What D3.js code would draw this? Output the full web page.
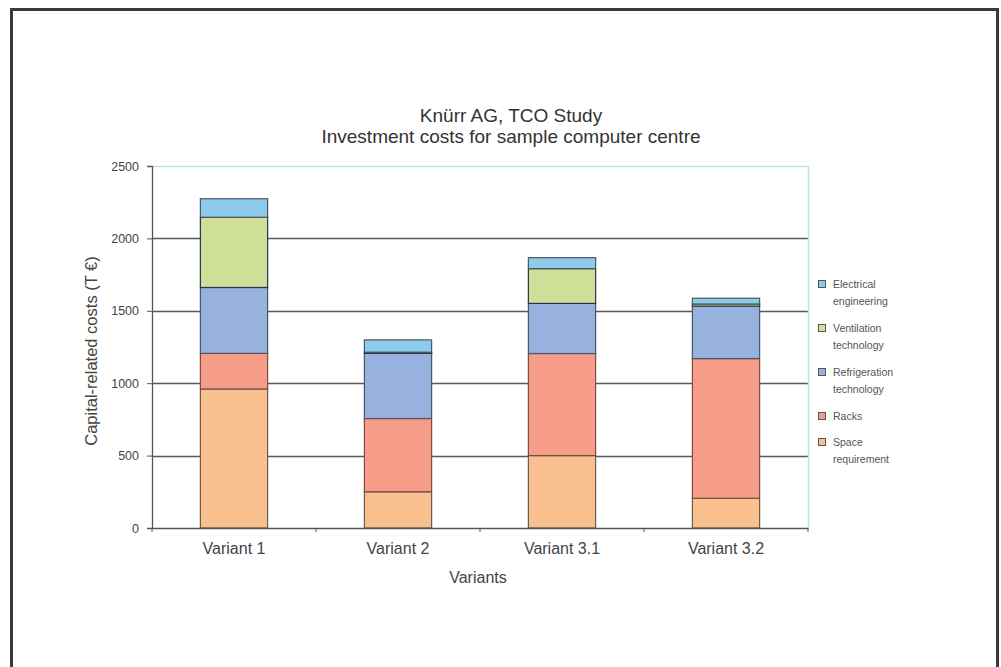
<!DOCTYPE html>
<html>
<head>
<meta charset="utf-8">
<script src="https://cdn.jsdelivr.net/npm/d3@7"></script>
<style>
  body { margin: 0; background: #fff; }
  svg { display: block; font-family: "Liberation Sans", Arial, sans-serif; }
</style>
</head>
<body>
<div id="chart"></div>
<script>
// chart data
const variants = ["Variant 1", "Variant 2", "Variant 3.1", "Variant 3.2"];
const seriesNames = ["Space requirement", "Racks", "Refrigeration technology", "Ventilation technology", "Electrical engineering"];
const spaceRequirement = [960, 250, 500, 205];
const racks = [246, 506, 705, 965];
const refrigeration = [455, 450, 346, 362];
const ventilation = [485, 8, 240, 15];
const electrical = [128, 85, 76, 40];
const yTicks = [0, 500, 1000, 1500, 2000, 2500];
const legendLines = [
  ["Electrical", "engineering"],
  ["Ventilation", "technology"],
  ["Refrigeration", "technology"],
  ["Racks"],
  ["Space", "requirement"]
];

const colors = ["#f9c18f", "#f59d89", "#97b2de", "#cfdf98", "#8ccbea"];
const strokes = ["#6b5a4a", "#7a4a44", "#4d5560", "#26344a", "#4d5560"];

const width = 1001, height = 667;
const margin = {top: 166, right: 193, bottom: 139, left: 152};

const svg = d3.select("#chart").append("svg")
  .attr("width", width)
  .attr("height", height);

// outer frame
svg.append("path")
  .attr("d", `M11.5,${height + 5} V9.5 H997.5 V${height + 5}`)
  .attr("fill", "none")
  .attr("stroke", "#3a3a3a")
  .attr("stroke-width", 3);

// build rows for stacking
const table = variants.map((v, i) => ({
  variant: v,
  "Space requirement": spaceRequirement[i],
  "Racks": racks[i],
  "Refrigeration technology": refrigeration[i],
  "Ventilation technology": ventilation[i],
  "Electrical engineering": electrical[i]
}));
const stacked = d3.stack().keys(seriesNames)(table);

const x = d3.scaleBand()
  .domain(variants)
  .range([margin.left, width - margin.right])
  .paddingInner(0.59)
  .paddingOuter(0.295);

const y = d3.scaleLinear()
  .domain([0, 2500])
  .range([height - margin.bottom, margin.top]);

// grid lines
svg.append("g")
  .selectAll("line")
  .data(yTicks.filter(d => d > 0 && d < 2500))
  .join("line")
  .attr("x1", margin.left)
  .attr("x2", width - margin.right)
  .attr("y1", d => Math.round(y(d)) + 0.5)
  .attr("y2", d => Math.round(y(d)) + 0.5)
  .attr("stroke", "#5a5a5a")
  .attr("stroke-width", 1.3);

// plot area border top/right (light cyan)
svg.append("path")
  .attr("d", `M${margin.left},${Math.round(y(2500)) + 0.5} H${width - margin.right + 0.5} V${Math.round(y(0))}`)
  .attr("fill", "none")
  .attr("stroke", "#bfe3ea")
  .attr("stroke-width", 1.5);

// bars
svg.append("g")
  .selectAll("g")
  .data(stacked)
  .join("g")
  .attr("fill", (d, i) => colors[i])
  .attr("stroke", (d, i) => strokes[i])
  .selectAll("rect")
  .data(d => d)
  .join("rect")
  .attr("x", d => x(d.data.variant))
  .attr("y", d => y(d[1]))
  .attr("width", x.bandwidth())
  .attr("height", d => Math.max(0, y(d[0]) - y(d[1])))
  .attr("stroke-width", 1.2);

// y axis
svg.append("g")
  .attr("transform", `translate(${margin.left},0)`)
  .call(d3.axisLeft(y).tickValues(yTicks).tickFormat(d3.format("d")).tickSize(5).tickPadding(8))
  .call(g => g.select(".domain").attr("stroke", "#555").attr("stroke-width", 1.3))
  .call(g => g.selectAll(".tick line").attr("stroke", "#555"))
  .call(g => g.selectAll(".tick text").attr("fill", "#444").attr("font-size", 12.5));

// x axis
svg.append("g")
  .attr("transform", `translate(0,${y(0)})`)
  .call(d3.axisBottom(x).tickSize(0).tickPadding(15))
  .call(g => g.select(".domain").attr("stroke", "#555").attr("stroke-width", 1.3))
  .call(g => g.selectAll(".tick text").attr("fill", "#444").attr("font-size", 16));

// category boundary ticks
svg.append("g")
  .selectAll("line")
  .data(d3.range(variants.length + 1))
  .join("line")
  .attr("x1", i => margin.left + i * x.step())
  .attr("x2", i => margin.left + i * x.step())
  .attr("y1", y(0))
  .attr("y2", y(0) + 4)
  .attr("stroke", "#555");

// titles
svg.append("text")
  .attr("x", 511).attr("y", 122)
  .attr("text-anchor", "middle")
  .attr("font-size", 19)
  .attr("fill", "#333")
  .text("Knürr AG, TCO Study");
svg.append("text")
  .attr("x", 511).attr("y", 143)
  .attr("text-anchor", "middle")
  .attr("font-size", 19)
  .attr("fill", "#333")
  .text("Investment costs for sample computer centre");

// axis titles
svg.append("text")
  .attr("transform", `translate(97,${(y(0) + y(2500)) / 2 + 4}) rotate(-90)`)
  .attr("text-anchor", "middle")
  .attr("font-size", 16.5)
  .attr("fill", "#444")
  .text("Capital-related costs (T €)");
svg.append("text")
  .attr("x", 478).attr("y", 583)
  .attr("text-anchor", "middle")
  .attr("font-size", 16)
  .attr("fill", "#444")
  .text("Variants");

// legend (top-down: reverse of stacking order)
const legendY = [285, 329, 373, 417, 443];
const legend = svg.append("g");
legendLines.forEach((lines, i) => {
  const si = seriesNames.length - 1 - i;
  legend.append("rect")
    .attr("x", 818.5).attr("y", legendY[i] - 4.5)
    .attr("width", 7).attr("height", 7)
    .attr("fill", colors[si])
    .attr("stroke", "#555")
    .attr("stroke-width", 1);
  lines.forEach((t, j) => {
    legend.append("text")
      .attr("x", 833)
      .attr("y", legendY[i] + j * 17 + 3)
      .attr("font-size", 10.5)
      .attr("fill", "#555")
      .text(t);
  });
});
</script>
</body>
</html>
